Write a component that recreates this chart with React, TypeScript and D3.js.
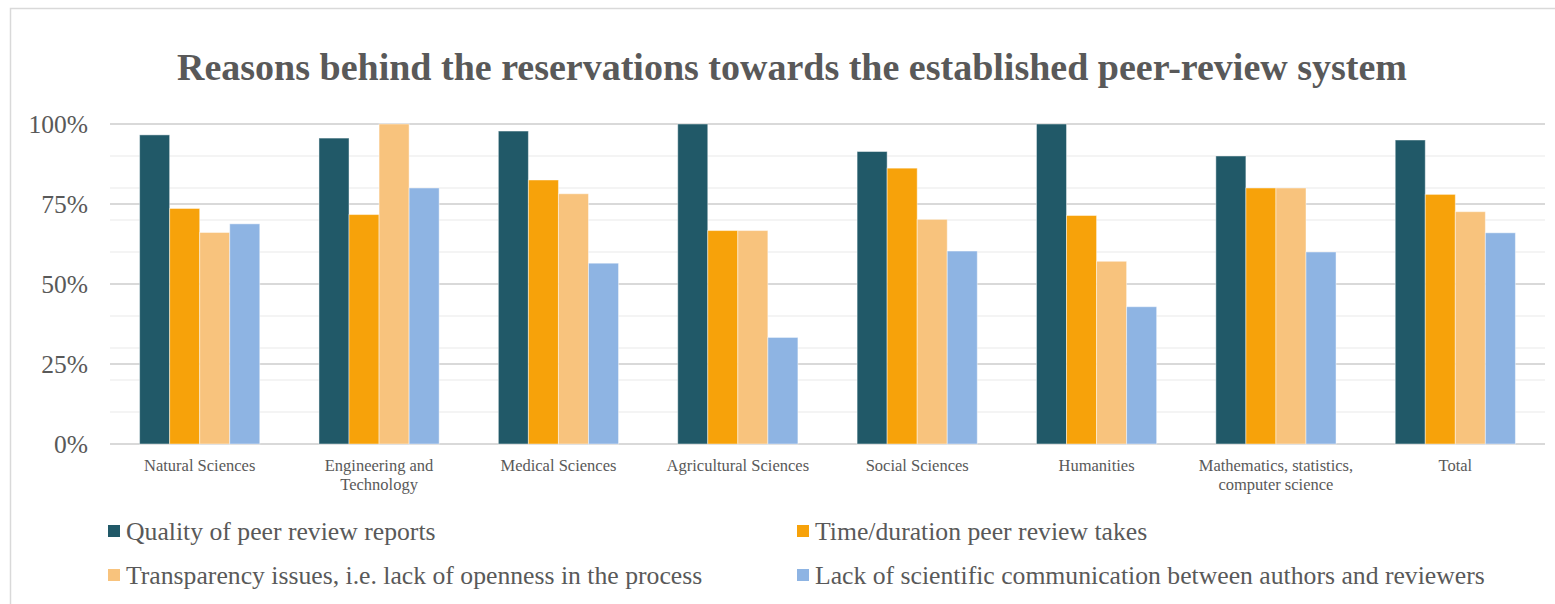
import React from "react";
import * as d3 from "d3";

const categories = [
  ["Natural Sciences"],
  ["Engineering and", "Technology"],
  ["Medical Sciences"],
  ["Agricultural Sciences"],
  ["Social Sciences"],
  ["Humanities"],
  ["Mathematics, statistics,", "computer science"],
  ["Total"],
];
const seriesNames = [
  "Quality of peer review reports",
  "Time/duration peer review takes",
  "Transparency issues, i.e. lack of openness in the process",
  "Lack of scientific communication between authors and reviewers",
];
const colors = ["#215968", "#F7A20A", "#F8C37D", "#8EB4E3"];
const quality = [96.6, 95.6, 97.8, 100, 91.4, 100, 90, 95];
const timeDuration = [73.6, 71.7, 82.5, 66.7, 86.2, 71.4, 80, 78];
const transparency = [66.1, 100, 78.2, 66.7, 70.2, 57.1, 80, 72.6];
const communication = [68.8, 80, 56.5, 33.3, 60.3, 42.9, 60, 66];
const seriesValues = [quality, timeDuration, transparency, communication];
const majorTicks = [0, 25, 50, 75, 100];
const minorTicks = [10, 20, 30, 40, 60, 70, 80, 90];
const title = "Reasons behind the reservations towards the established peer-review system";

export default function App() {
  const W = 1555, H = 604;
  const left = 110, right = 1545, top = 124, bottom = 444;
  const keys = categories.map((c) => c.join(" "));
  const x0 = d3.scaleBand<string>().domain(keys).range([left, right]).paddingInner(0.33).paddingOuter(0.165);
  const x1 = d3.scaleBand<number>().domain([0, 1, 2, 3]).range([0, x0.bandwidth()]);
  const y = d3.scaleLinear().domain([0, 100]).range([bottom, top]);
  const font = "'Liberation Serif', 'DejaVu Serif', serif";
  const grey = "#595959";
  return (
    <svg width={W} height={H} style={{ position: "absolute", left: 0, top: 0 }} fontFamily={font}>
      <rect x={0} y={0} width={W} height={H} fill="#fff" />
      <rect x={10.5} y={8.5} width={W + 20} height={H + 20} fill="none" stroke="#d9d9d9" strokeWidth={1.5} />
      <text x={792} y={80} textAnchor="middle" fontSize={38} fontWeight="bold" fill={grey}>
        {title}
      </text>
      {minorTicks.map((t) => (
        <line key={"m" + t} x1={left} x2={right} y1={y(t)} y2={y(t)} stroke="#f0f0f0" strokeWidth={1.5} />
      ))}
      {majorTicks.map((t) => (
        <line key={"M" + t} x1={left} x2={right} y1={y(t)} y2={y(t)} stroke="#d9d9d9" strokeWidth={2} />
      ))}
      {majorTicks.map((t) => (
        <text key={"l" + t} x={88} y={y(t)} dy="0.35em" textAnchor="end" fontSize={25.5} fill={grey}>
          {t + "%"}
        </text>
      ))}
      {seriesValues.map((vals, si) =>
        vals.map((v, ci) => (
          <rect
            key={si + "-" + ci}
            x={(x0(keys[ci]) as number) + (x1(si) as number)}
            y={y(v)}
            width={x1.bandwidth()}
            height={bottom - y(v)}
            fill={colors[si]}
            stroke="#ffffff"
            strokeOpacity={0.45}
            strokeWidth={1}
          />
        ))
      )}
      {categories.map((lines, ci) => (
        <text
          key={"c" + ci}
          x={(x0(keys[ci]) as number) + x0.bandwidth() / 2}
          y={465}
          textAnchor="middle"
          fontSize={16.5}
          fill={grey}
        >
          {lines.map((ln, li) => (
            <tspan key={li} x={(x0(keys[ci]) as number) + x0.bandwidth() / 2} y={465 + li * 19.5} dy="0.35em">
              {ln}
            </tspan>
          ))}
        </text>
      ))}
      {seriesNames.map((name, i) => {
        const lx = i % 2 === 0 ? 108 : 797;
        const ly = i < 2 ? 531 : 575;
        return (
          <g key={"lg" + i}>
            <rect x={lx} y={ly - 6} width={12} height={12} fill={colors[i]} />
            <text x={lx + 18} y={ly} dy="0.35em" fontSize={25.7} fill={grey}>
              {name}
            </text>
          </g>
        );
      })}
    </svg>
  );
}
